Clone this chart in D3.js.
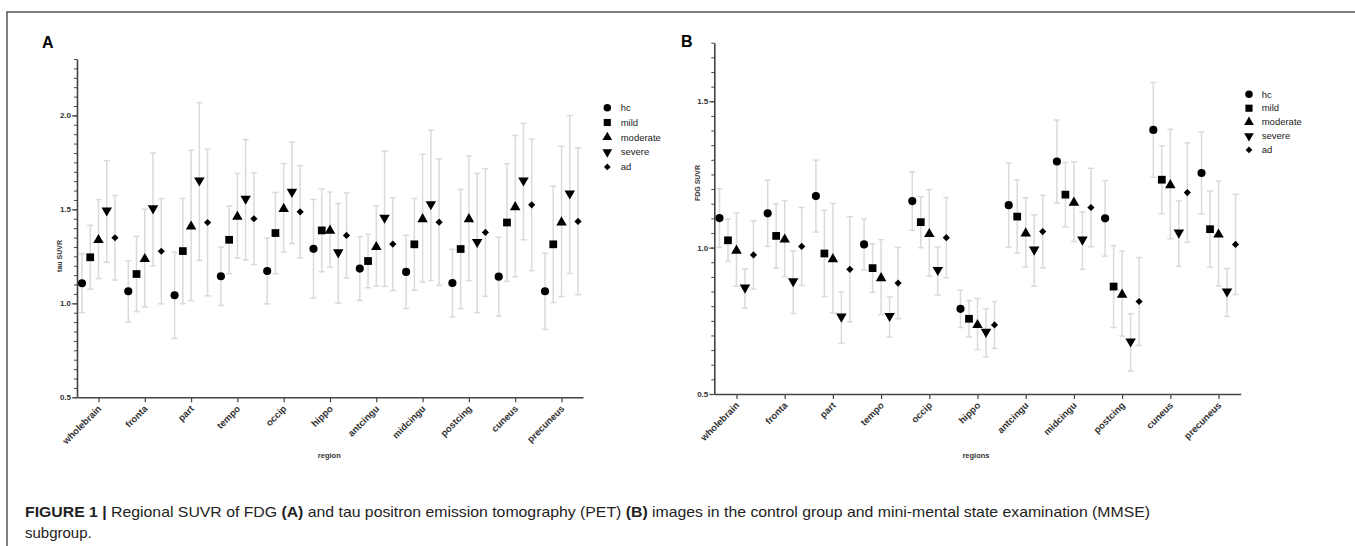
<!DOCTYPE html>
<html><head><meta charset="utf-8">
<script src="https://cdn.jsdelivr.net/npm/d3@7"></script>
<style>
body{margin:0;background:#fff;}
svg{display:block;font-family:"Liberation Sans",Arial,Helvetica,sans-serif;}
</style></head>
<body><svg id="c" width="1355" height="546"></svg>
<script>
const regions = ["wholebrain","fronta","part","tempo","occip","hippo","antcingu","midcingu","postcing","cuneus","precuneus"];
const groups = ["hc","mild","moderate","severe","ad"];
const tickA = [0.5,1.0,1.5,2.0];
const tickB = [0.5,1.0,1.5];

// Panel A: tau SUVR (mean, sd)
const tauHc       = [1.107,1.064,1.043,1.144,1.172,1.290,1.185,1.167,1.108,1.142,1.064];
const tauHcSd     = [0.157,0.163,0.230,0.155,0.175,0.262,0.170,0.195,0.180,0.210,0.203];
const tauMild     = [1.245,1.156,1.278,1.338,1.374,1.388,1.225,1.314,1.289,1.430,1.314];
const tauMildSd   = [0.170,0.200,0.280,0.180,0.216,0.220,0.142,0.244,0.317,0.313,0.310];
const tauMod      = [1.342,1.241,1.414,1.466,1.508,1.392,1.305,1.453,1.453,1.517,1.436];
const tauModSd    = [0.210,0.260,0.400,0.225,0.235,0.200,0.213,0.340,0.332,0.376,0.400];
const tauSev      = [1.489,1.500,1.648,1.551,1.588,1.266,1.450,1.522,1.321,1.648,1.579];
const tauSevSd    = [0.270,0.300,0.420,0.320,0.270,0.265,0.360,0.400,0.370,0.310,0.420];
const tauAd       = [1.349,1.277,1.430,1.450,1.487,1.361,1.315,1.432,1.377,1.524,1.436];
const tauAdSd     = [0.225,0.280,0.390,0.244,0.246,0.226,0.247,0.337,0.340,0.350,0.390];

// Panel B: FDG SUVR (mean, sd)
const fdgHc       = [1.101,1.117,1.176,1.011,1.159,0.791,1.145,1.294,1.100,1.402,1.255];
const fdgHcSd     = [0.100,0.113,0.123,0.087,0.100,0.064,0.144,0.142,0.129,0.162,0.140];
const fdgMild     = [1.025,1.040,0.980,0.930,1.087,0.757,1.106,1.181,0.867,1.232,1.063];
const fdgMildSd   = [0.072,0.110,0.147,0.083,0.087,0.062,0.125,0.110,0.140,0.116,0.130];
const fdgMod      = [0.993,1.031,0.964,0.899,1.050,0.739,1.052,1.157,0.843,1.217,1.048];
const fdgModSd    = [0.125,0.130,0.187,0.128,0.148,0.087,0.118,0.136,0.145,0.187,0.179];
const fdgSev      = [0.860,0.882,0.761,0.763,0.920,0.709,0.990,1.024,0.676,1.048,0.847];
const fdgSevSd    = [0.067,0.107,0.088,0.069,0.082,0.082,0.122,0.098,0.098,0.112,0.082];
const fdgAd       = [0.975,1.004,0.926,0.879,1.034,0.736,1.055,1.137,0.816,1.188,1.011];
const fdgAdSd     = [0.117,0.133,0.180,0.122,0.137,0.080,0.124,0.134,0.150,0.170,0.171];

const tauMeans = [tauHc,tauMild,tauMod,tauSev,tauAd];
const tauSds   = [tauHcSd,tauMildSd,tauModSd,tauSevSd,tauAdSd];
const fdgMeans = [fdgHc,fdgMild,fdgMod,fdgSev,fdgAd];
const fdgSds   = [fdgHcSd,fdgMildSd,fdgModSd,fdgSevSd,fdgAdSd];

const svg = d3.select("#c");

// figure border
svg.append("path").attr("d","M7,546V12H1355").attr("fill","none").attr("stroke","#555").attr("stroke-width",1.5);

const symbols = [
  {t:d3.symbolCircle, s:52, r:0},
  {t:d3.symbolSquare, s:60, r:0},
  {t:d3.symbolTriangle, s:48, r:0},
  {t:d3.symbolTriangle, s:48, r:180},
  {t:d3.symbolSquare, s:26, r:45}
];

function panel(cfg){
  const g = svg.append("g");
  const x = d3.scalePoint().domain(regions).range(cfg.xr).padding(cfg.pad);
  const y = d3.scaleLinear().domain(cfg.yd).range(cfg.yr);

  // minor ticks
  const minor = d3.range(cfg.yd[0], cfg.yd[1]+1e-9, 0.05).map(v=>+v.toFixed(2));
  const ma = g.append("g").attr("transform",`translate(${cfg.xr[0]},0)`)
    .call(d3.axisLeft(y).tickValues(minor).tickSize(3).tickFormat(""));
  ma.select(".domain").remove();
  ma.selectAll("line").attr("stroke","#444").attr("stroke-width",1);

  const ya = g.append("g").attr("transform",`translate(${cfg.xr[0]},0)`)
    .call(d3.axisLeft(y).tickValues(cfg.ticks).tickSize(5).tickSizeOuter(0).tickFormat(d3.format(".1f")));
  ya.select(".domain").attr("stroke","#444").attr("stroke-width",1.6);
  ya.selectAll("line").attr("stroke","#444").attr("stroke-width",1.2);
  ya.selectAll("text").attr("font-size",8).attr("font-weight","bold").attr("fill","#333").attr("x",-6);

  const xa = g.append("g").attr("transform",`translate(0,${cfg.yr[0]})`)
    .call(d3.axisBottom(x).tickSize(5).tickSizeOuter(0));
  xa.select(".domain").attr("stroke","#444").attr("stroke-width",1.6);
  xa.selectAll("line").attr("stroke","#444").attr("stroke-width",1.2);
  xa.selectAll("text").attr("font-size",9.5).attr("font-weight","bold").attr("fill","#333")
    .attr("text-anchor","end").attr("dy",0).attr("y",0)
    .attr("transform","translate(3,12) rotate(-45)");

  // data
  groups.forEach((gr,i)=>{
    const means = cfg.means[i], sds = cfg.sds[i];
    const off = (i-2)*cfg.gap;
    const gg = g.append("g");
    regions.forEach((r,j)=>{
      const cx = x(r)+off;
      const y0 = y(means[j]-sds[j]), y1 = y(means[j]+sds[j]);
      gg.append("line").attr("x1",cx).attr("x2",cx).attr("y1",y0).attr("y2",y1)
        .attr("stroke","#dadada").attr("stroke-width",1.5);
      [y0,y1].forEach(yy=>gg.append("line").attr("x1",cx-3).attr("x2",cx+3).attr("y1",yy).attr("y2",yy)
        .attr("stroke","#dadada").attr("stroke-width",1.5));
    });
    regions.forEach((r,j)=>{
      const cx = x(r)+off;
      gg.append("path").attr("d",d3.symbol(symbols[i].t,symbols[i].s)())
        .attr("transform",`translate(${cx},${y(means[j]) + (i===2?1:(i===3?-1:0))}) rotate(${symbols[i].r})`)
        .attr("fill","#000");
    });
  });

  // legend
  const lg = g.append("g");
  groups.forEach((gr,i)=>{
    const ly = cfg.leg[1] + i*cfg.leg[3];
    lg.append("path").attr("d",d3.symbol(symbols[i].t,symbols[i].s*0.85)())
      .attr("transform",`translate(${cfg.leg[0]},${ly}) rotate(${symbols[i].r})`).attr("fill","#000");
    lg.append("text").attr("x",cfg.leg[2]).attr("y",ly+3.2).attr("font-size",9.5).attr("fill","#222").text(gr);
  });

  // titles
  g.append("text").attr("transform",`translate(${cfg.yt[0]},${cfg.yt[1]}) rotate(-90)`)
    .attr("text-anchor","middle").attr("font-size",7).attr("font-weight","bold").attr("fill","#333").text(cfg.ytitle);
  g.append("text").attr("x",cfg.xt[0]).attr("y",cfg.xt[1]).attr("text-anchor","middle")
    .attr("font-size",7.5).attr("font-weight","bold").attr("fill","#333").text(cfg.xtitle);
  g.append("text").attr("x",cfg.lab[0]).attr("y",cfg.lab[1]).attr("font-size",16).attr("font-weight","bold")
    .attr("fill","#000").text(cfg.label);
}

panel({xr:[77,583], pad:0.464, yd:[0.5,2.3], yr:[397.3,59], ticks:tickA, gap:8.25,
  means:tauMeans, sds:tauSds, leg:[607.3,107.7,620.7,14.8], yt:[62,256], xt:[329.3,458],
  ytitle:"tau SUVR", xtitle:"region", lab:[42,48], label:"A"});
panel({xr:[714.3,1240.7], pad:0.46, yd:[0.5,1.7], yr:[394,42.7], ticks:tickB, gap:8.5,
  means:fdgMeans, sds:fdgSds, leg:[1249,94.3,1261.7,13.9], yt:[700,183], xt:[976,458],
  ytitle:"FDG SUVR", xtitle:"regions", lab:[681,47], label:"B"});

// caption
const cap = svg.append("text").attr("x",25).attr("y",517).attr("font-size",15).attr("fill","#222")
  .attr("textLength",1125).attr("lengthAdjust","spacingAndGlyphs");
cap.append("tspan").attr("font-weight","bold").text("FIGURE 1 | ");
cap.append("tspan").text("Regional SUVR of FDG ");
cap.append("tspan").attr("font-weight","bold").text("(A)");
cap.append("tspan").text(" and tau positron emission tomography (PET) ");
cap.append("tspan").attr("font-weight","bold").text("(B)");
cap.append("tspan").text(" images in the control group and mini-mental state examination (MMSE)");
svg.append("text").attr("x",25).attr("y",538).attr("font-size",15).attr("fill","#222").text("subgroup.");
</script></body></html>
